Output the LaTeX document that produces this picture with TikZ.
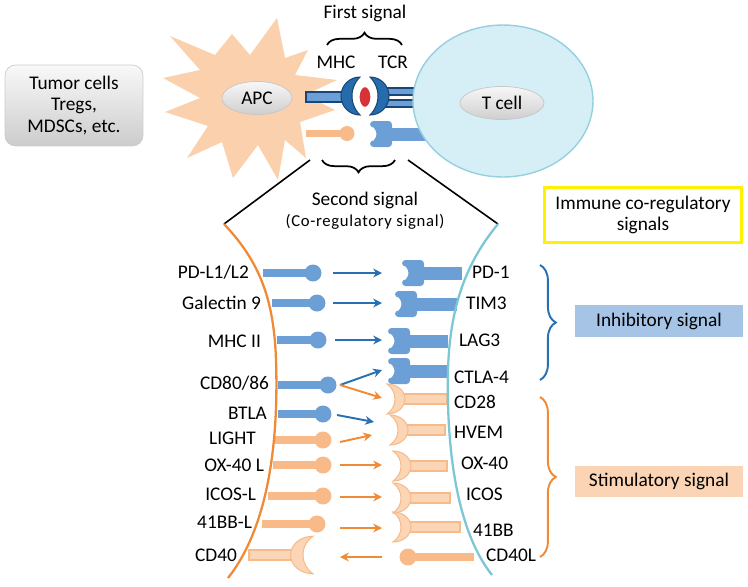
\documentclass[tikz,border=0pt]{standalone}
\usepackage{fontspec}
\setmainfont{Carlito}
\usetikzlibrary{arrows.meta}
\usetikzlibrary{shapes.geometric}
\usetikzlibrary{decorations.pathreplacing}

\definecolor{peach}{RGB}{250,209,172}
\definecolor{ligorange}{RGB}{248,186,136}
\definecolor{cuporange}{RGB}{251,214,182}
\definecolor{lineorange}{RGB}{239,138,55}
\definecolor{ligblue}{RGB}{108,159,214}
\definecolor{arrblue}{RGB}{40,112,180}
\definecolor{darkblue}{RGB}{25,70,120}
\definecolor{midblue}{RGB}{38,108,172}
\definecolor{membteal}{RGB}{125,198,214}
\definecolor{tfill}{RGB}{214,238,246}
\definecolor{tline}{RGB}{150,208,224}
\definecolor{inhfill}{RGB}{166,196,230}
\definecolor{stimfill}{RGB}{250,212,180}
\definecolor{mhcred}{RGB}{214,50,55}

\tikzset{
	lab/.style={font=\fontsize{11}{12}\selectfont, inner sep=1pt},
	barrow/.style={->, arrblue, line width=1.1pt},
	oarrow/.style={->, lineorange, line width=1.1pt},
	cellname/.style={ellipse, inner sep=0pt, top color=gray!6, bottom color=gray!38, draw=gray!45, font=\fontsize{11}{12}\selectfont},
	sigbox/.style={minimum width=3.36cm, minimum height=0.63cm, inner sep=0pt, font=\fontsize{11}{12}\selectfont},
	ocup/.pic={
		\filldraw[fill=cuporange, draw=ligorange, line width=0.6pt] (0,-15) arc[start angle=-90, end angle=90, x radius=18, y radius=15] arc[start angle=56.2, end angle=-56.2, radius=18.06] -- cycle;
	},
	bhead/.pic={
		\fill[ligblue, rounded corners=2pt] (0,-13) -- (22,-13) -- (22,13) -- (0,13) -- (0,6.5) arc[start angle=90, end angle=-90, radius=6.5] -- cycle;
	},
}

\begin{document}
\begin{tikzpicture}[x=0.02cm, y=0.02cm, yscale=-1, >={Stealth[length=5pt,width=5pt]}]
	\useasboundingbox (0,0) rectangle (748,586);

	% left box
	\node[lab, font=\fontsize{11}{12.5}\selectfont, rounded corners=6pt, top color=gray!5, bottom color=gray!40, draw=gray!40, minimum width=2.76cm, minimum height=1.62cm, align=center] (tumor) at (74,105.5) {Tumor cells\\Tregs,\\MDSCs, etc.};

	% APC
	\fill[peach] (277,18) -- (285,58) -- (308,50) -- (295,75) -- (337,80) -- (305,95) -- (335,110) -- (300,122) -- (306,158) -- (285,140) -- (278,180) -- (258,145) -- (233,178) -- (222,142) -- (187,158) -- (208,126) -- (165,112) -- (200,98) -- (163,78) -- (200,70) -- (170,36) -- (215,55) -- (232,34) -- (250,55) -- cycle;
	\node[cellname, minimum width=1.4cm, minimum height=0.66cm] (apc) at (257,98) {APC};

	% first signal
	\filldraw[fill=ligblue, draw=darkblue, line width=0.6pt] (306,92) rectangle (346,102);
	\filldraw[fill=ligblue, draw=darkblue, line width=0.6pt] (383,88) rectangle (422,95);
	\filldraw[fill=ligblue, draw=darkblue, line width=0.6pt] (383,100) rectangle (422,107);
	% second signal
	\fill[ligorange] (306,130) rectangle (343,137);
	\fill[ligorange] (347,133.5) circle (0.15cm);
	\fill[ligblue] (388,128) rectangle (432,141);
	\pic at (370,134) {bhead};

	% T cell
	\node[ellipse, fill=tfill, draw=tline, line width=0.8pt, minimum width=3.6cm, minimum height=3.04cm] (tcell) at (503,101) {};
	\node[cellname, minimum width=1.68cm, minimum height=0.66cm] (tname) at (502,103) {T cell};

	\filldraw[fill=midblue, draw=darkblue, line width=0.6pt] (360,77) arc[start angle=270, end angle=90, radius=19] arc[start angle=134.33, end angle=225.67, radius=26.56] -- cycle;
	\filldraw[fill=midblue, draw=darkblue, line width=0.6pt] (370,77) arc[start angle=-90, end angle=90, radius=19] arc[start angle=45.67, end angle=-45.67, radius=26.56] -- cycle;
	\filldraw[fill=mhcred, draw=white, line width=1.2pt] (365,97) ellipse [x radius=6.5, y radius=11];

	\node[lab] (first) at (365,13) {First signal};
	\node[lab] (mhc) at (336,62) {MHC};
	\node[lab] (tcr) at (393,62) {TCR};
	\draw[decorate, decoration={brace, amplitude=7pt}, line width=1pt] (327,45) -- (402,45);
	\draw[decorate, decoration={brace, amplitude=7pt, mirror}, line width=1pt] (322,160) -- (395,160);
	\draw[line width=0.9pt] (310,160) -- (224,224);
	\draw[line width=0.9pt] (408,160) -- (498,224);
	\node[lab] (second) at (365,200) {Second signal};
	\node[lab, font=\fontsize{9.5}{11}\selectfont\addfontfeature{LetterSpace=4}] (coreg) at (365,222) {(Co-regulatory signal)};

	% receptors on the T cell side
	\foreach \h/\c/\e in {402/273/462, 395/304/457, 388/341/448, 388/371/447} {
		\fill[ligblue] (\h+20,\c-6.5) rectangle (\e,\c+6.5);
		\pic at (\h,\c) {bhead};
	}
	\foreach \h/\c/\e in {387/399/447, 390/430/445, 393/466/447, 393/498/450, 393/527/460} {
		\filldraw[fill=cuporange, draw=ligorange, line width=0.6pt] (\h+10,\c-5) rectangle (\e,\c+5);
		\pic at (\h,\c) {ocup};
	}
	\fill[ligorange] (408,553) rectangle (474,561);
	\fill[ligorange] (408,557) circle (0.17cm);

	% ligands on the APC side
	\foreach \s/\p/\c in {263/313/273, 272/317/303, 277/318/340, 278/328/385, 278/323/414} {
		\fill[ligblue] (\s,\c-4) rectangle (\p,\c+4);
		\fill[ligblue] (\p,\c) circle (0.17cm);
	}
	\foreach \s/\p/\c in {275/323/440, 273/323/465, 268/323/496, 262/317/524} {
		\fill[ligorange] (\s,\c-4) rectangle (\p,\c+4);
		\fill[ligorange] (\p,\c) circle (0.17cm);
	}
	\filldraw[fill=cuporange, draw=ligorange, line width=0.6pt] (249,550) rectangle (302,560);
	\pic[xscale=-1, scale=1.25] at (313,555) {ocup};

	% membranes
	\draw[lineorange, line width=1.3pt] (224,224) .. controls (260,262) and (274,300) .. (276,360) .. controls (279,450) and (266,530) .. (228,578);
	\draw[membteal, line width=1.3pt] (498,224) .. controls (470,258) and (450,300) .. (448,370) .. controls (446,460) and (460,535) .. (492,575);

	% arrows
	\draw[barrow] (333,273) -- (382,273);
	\draw[barrow] (333,303) -- (382,303);
	\draw[barrow] (335,340) -- (382,340);
	\draw[barrow] (340,385) -- (382,370);
	\draw[oarrow] (340,385) -- (382,398);
	\draw[barrow] (337,415) -- (374,422);
	\draw[oarrow] (340,442) -- (372,435);
	\draw[oarrow] (340,465) -- (382,465);
	\draw[oarrow] (340,497) -- (382,497);
	\draw[oarrow] (340,528) -- (382,528);
	\draw[oarrow] (382,557) -- (340,557);

	% names
	\node[lab, anchor=east] (pdl) at (251,272) {PD-L1/L2};
	\node[lab, anchor=east] (gal) at (263,303) {Galectin 9};
	\node[lab, anchor=east] (mhcii) at (263,341) {MHC II};
	\node[lab, anchor=east] (cdeighty) at (271,383) {CD80/86};
	\node[lab, anchor=east] (btla) at (269,413) {BTLA};
	\node[lab, anchor=east] (light) at (258,438) {LIGHT};
	\node[lab, anchor=east] (oxl) at (266,465) {OX-40 L};
	\node[lab, anchor=east] (icosl) at (258,494) {ICOS-L};
	\node[lab, anchor=east] (bbl) at (254,522) {41BB-L};
	\node[lab, anchor=east] (cdforty) at (239,555) {CD40};
	\node[lab, anchor=west] (pdone) at (470,272) {PD-1};
	\node[lab, anchor=west] (tim) at (464,303) {TIM3};
	\node[lab, anchor=west] (lag) at (457,340) {LAG3};
	\node[lab, anchor=west] (ctla) at (452,377) {CTLA-4};
	\node[lab, anchor=west] (cdtwenty) at (452,402) {CD28};
	\node[lab, anchor=west] (hvem) at (452,432) {HVEM};
	\node[lab, anchor=west] (ox) at (459,463) {OX-40};
	\node[lab, anchor=west] (icos) at (464,494) {ICOS};
	\node[lab, anchor=west] (bb) at (471,530) {41BB};
	\node[lab, anchor=west] (cdfortyl) at (484,555) {CD40L};

	% right side
	\node[lab, draw=yellow, line width=1.7pt, minimum width=3.95cm, minimum height=1.1cm, align=center] (immune) at (643,215) {Immune co-regulatory\\signals};
	\draw[decorate, decoration={brace, amplitude=9pt}, arrblue, line width=1.1pt] (540,265) -- (540,380);
	\draw[decorate, decoration={brace, amplitude=9pt}, lineorange, line width=1.1pt] (540,397) -- (540,557);
	\node[sigbox, fill=inhfill] (inhib) at (659,321) {Inhibitory signal};
	\node[sigbox, fill=stimfill] (stim) at (659,481.5) {Stimulatory signal};
\end{tikzpicture}
\end{document}
